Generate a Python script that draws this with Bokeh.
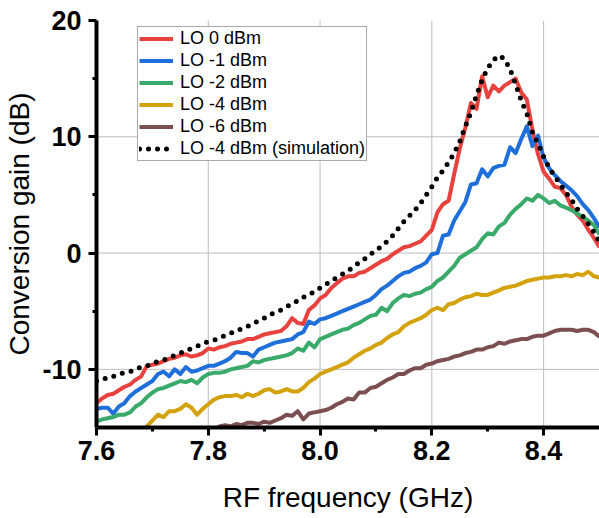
import numpy as np
from bokeh.plotting import figure
from bokeh.models import FixedTicker, Legend, LegendItem, Range1d, Span
from bokeh.embed import file_html
from bokeh.resources import INLINE

# RF frequency sweep (GHz), 10 MHz steps
freq = np.round(np.linspace(7.60, 8.50, 91), 2)

lo_0dBm = [-12.9, -12.5, -12.2, -12.1, -11.8, -11.5, -11.3, -10.9, -10.6, -9.7,
           -9.6, -9.5, -9.3, -9.1, -9.0, -8.8, -8.7, -8.9, -8.8, -8.6,
           -8.2, -8.3, -8.1, -8.0, -7.8, -7.7, -7.6, -7.4, -7.4, -7.2,
           -7.0, -6.9, -6.8, -6.7, -6.3, -5.6, -6.0, -6.1, -4.9, -4.5,
           -3.9, -3.6, -3.0, -2.6, -2.2, -2.0, -2.0, -1.7, -1.6, -1.3,
           -1.0, -0.7, -0.5, -0.1, 0.2, 0.5, 0.6, 0.8, 1.0, 1.5,
           2.0, 3.5, 4.2, 4.5, 6.8, 9.0, 10.8, 12.9, 12.4, 15.2,
           13.4, 14.4, 13.9, 14.4, 14.7, 15.0, 13.8, 13.2, 10.6, 8.5,
           7.0, 6.4, 5.7, 5.6, 5.0, 4.0, 3.3, 2.8, 2.0, 1.3,
           0.5]

lo_m1dBm = [-13.4, -13.3, -13.3, -13.8, -13.2, -12.9, -12.3, -11.9, -11.6, -11.3,
            -11.0, -10.4, -10.2, -10.6, -10.0, -10.4, -9.8, -10.2, -10.1, -9.9,
            -9.7, -9.7, -9.5, -9.3, -9.0, -8.5, -8.6, -8.6, -8.9, -8.3,
            -8.1, -7.9, -7.7, -7.6, -7.5, -7.4, -7.0, -6.8, -5.9, -6.1,
            -5.7, -5.6, -5.4, -5.2, -5.0, -4.8, -4.6, -4.4, -4.2, -4.0,
            -3.6, -3.1, -2.8, -2.4, -2.0, -1.7, -1.6, -1.3, -1.1, -0.8,
            -0.1, 0.0, 1.5, 1.6, 2.8, 3.6, 4.4, 5.9, 6.0, 7.2,
            6.6, 7.3, 7.5, 7.6, 9.1, 8.6, 9.8, 10.9, 9.2, 10.1,
            8.2, 7.3, 6.7, 6.2, 5.8, 5.4, 4.9, 4.2, 3.7, 3.0,
            2.2]

lo_m2dBm = [-14.5, -14.3, -14.2, -14.1, -13.9, -13.9, -13.7, -13.2, -12.9, -12.4,
            -12.0, -11.7, -11.6, -11.4, -11.2, -11.0, -11.1, -10.9, -11.2, -10.7,
            -10.4, -10.3, -10.3, -10.2, -10.0, -9.9, -9.8, -9.7, -9.3, -9.4,
            -9.2, -9.1, -9.0, -8.9, -8.8, -8.6, -8.2, -8.4, -7.7, -8.1,
            -7.4, -7.2, -7.0, -6.8, -6.6, -6.5, -6.2, -6.0, -5.7, -5.4,
            -5.3, -4.7, -5.0, -4.3, -3.9, -3.6, -3.7, -3.5, -3.4, -3.1,
            -2.9, -2.4, -2.1, -1.6, -1.1, -0.4, -0.1, 0.2, 0.5, 1.2,
            1.7, 1.6, 2.3, 2.6, 3.3, 3.8, 4.2, 4.7, 4.5, 5.0,
            4.7, 4.3, 4.5, 4.1, 3.9, 3.7, 3.4, 3.1, 2.8, 2.4,
            1.6]

# starts at 7.68 GHz (below the axis before that)
lo_m4dBm = [-15.4, -14.9, -14.4, -13.9, -14.1, -13.6, -13.6, -13.4, -13.0, -13.3,
            -13.9, -13.4, -13.0, -12.6, -12.4, -12.3, -12.3, -12.2, -12.4, -12.1,
            -12.3, -12.1, -11.8, -11.7, -12.0, -11.9, -11.7, -11.9, -11.9, -11.6,
            -11.1, -10.8, -10.4, -10.2, -10.0, -9.8, -9.6, -9.4, -9.0, -8.7,
            -8.4, -8.2, -7.9, -7.7, -7.3, -7.0, -6.8, -6.3, -6.0, -5.8,
            -5.6, -5.3, -4.9, -4.7, -4.9, -4.4, -4.3, -4.0, -3.8, -3.7,
            -3.5, -3.6, -3.6, -3.4, -3.2, -3.0, -2.9, -2.8, -2.6, -2.4,
            -2.3, -2.2, -2.1, -2.1, -2.0, -2.0, -1.9, -2.0, -1.8, -1.9,
            -1.6, -2.0, -2.1]

# starts at 7.81 GHz
lo_m6dBm = [-15.3, -14.9, -14.8, -14.9, -14.7, -14.8, -14.6, -14.6, -14.7, -14.5,
            -14.6, -14.4, -14.2, -13.9, -14.0, -13.6, -14.3, -13.8, -13.7, -13.6,
            -13.5, -13.3, -13.0, -12.8, -12.5, -12.6, -12.0, -12.0, -11.6, -11.5,
            -11.2, -10.9, -10.7, -10.4, -10.4, -10.1, -9.9, -9.9, -9.6, -9.5,
            -9.3, -9.2, -9.1, -8.9, -8.8, -8.6, -8.5, -8.3, -8.3, -8.1,
            -8.0, -7.7, -7.8, -7.6, -7.5, -7.4, -7.4, -7.2, -7.1, -7.1,
            -6.9, -6.7, -6.6, -6.6, -6.6, -6.7, -6.6, -6.6, -6.8, -7.2]

lo_m4dBm_sim = [-11.0, -10.9, -10.7, -10.6, -10.4, -10.3, -10.2, -10.0, -9.8, -9.7,
                -9.5, -9.3, -9.2, -9.0, -8.8, -8.6, -8.4, -8.2, -8.0, -7.8,
                -7.6, -7.5, -7.3, -7.1, -6.9, -6.7, -6.5, -6.3, -6.1, -5.8,
                -5.6, -5.3, -5.1, -4.9, -4.6, -4.4, -4.1, -3.8, -3.6, -3.3,
                -3.0, -2.7, -2.4, -2.1, -1.8, -1.5, -1.2, -0.8, -0.5, -0.1,
                0.2, 0.6, 1.0, 1.5, 2.1, 2.7, 3.2, 3.7, 4.3, 5.0,
                5.7, 6.5, 7.1, 7.8, 8.6, 9.6, 10.9, 12.1, 13.6, 14.9,
                15.9, 16.6, 17.0, 16.7, 15.8, 14.5, 13.1, 12.0, 10.4, 9.4,
                8.3, 7.3, 6.6, 5.9, 5.2, 4.6, 3.8, 3.2, 2.5, 1.8,
                1.0]

labels = ["LO 0 dBm", "LO -1 dBm", "LO -2 dBm", "LO -4 dBm", "LO -6 dBm",
          "LO -4 dBm (simulation)"]
colors = ["#e8423f", "#1f6fdb", "#3aaa6a", "#d3a20c", "#7b4e50", "#000000"]

x_ticks = [7.6, 7.8, 8.0, 8.2, 8.4]
x_minor = [7.7, 7.9, 8.1, 8.3]
y_ticks = [-10, 0, 10, 20]
y_minor = [-5, 5, 15]

FONT = "Liberation Sans"

p = figure(width=599, height=518, x_range=Range1d(7.6, 8.5), y_range=Range1d(-15, 20),
           output_backend="svg", toolbar_location=None,
           min_border_left=96, min_border_right=0, min_border_top=20,
           min_border_bottom=91)
p.outline_line_color = None
p.background_fill_color = "white"
p.xgrid.visible = False
p.ygrid.visible = False

# grid lines at the inner major ticks
for v in x_ticks[1:]:
    p.add_layout(Span(location=v, dimension="height", line_color="#bdbdbd",
                      line_width=1, level="underlay"))
for v in y_ticks[:-1]:
    p.add_layout(Span(location=v, dimension="width", line_color="#bdbdbd",
                      line_width=1, level="underlay"))

series = [lo_0dBm, lo_m1dBm, lo_m2dBm, lo_m4dBm, lo_m6dBm]
renderers = []
for vals, col in zip(series, colors[:5]):
    xs = freq[len(freq) - len(vals):]
    r = p.line(xs, vals, line_color=col, line_width=4, line_join="round")
    renderers.append(r)

r_sim = p.line(freq, lo_m4dBm_sim, line_color="black", line_width=5,
               line_dash="0 9", line_cap="round")
renderers.append(r_sim)

# axes
for ax in (p.xaxis[0], p.yaxis[0]):
    ax.axis_line_width = 4
    ax.axis_line_color = "black"
    ax.major_tick_line_width = 3
    ax.minor_tick_line_width = 3
    ax.major_tick_in = 0
    ax.major_tick_out = 8
    ax.minor_tick_in = 0
    ax.minor_tick_out = 4
    ax.major_label_text_font = FONT
    ax.major_label_text_font_style = "bold"
    ax.major_label_text_font_size = "27px"
    ax.major_label_text_color = "black"
    ax.axis_label_text_font = FONT
    ax.axis_label_text_font_style = "normal"
    ax.axis_label_text_font_size = "28px"
    ax.axis_label_text_color = "black"

p.xaxis.ticker = FixedTicker(ticks=x_ticks, minor_ticks=x_minor)
p.yaxis.ticker = FixedTicker(ticks=y_ticks, minor_ticks=y_minor)
p.xaxis.major_label_overrides = {v: f"{v:.1f}" for v in x_ticks}
p.yaxis.major_label_overrides = {v: str(v) for v in y_ticks}
p.xaxis.axis_label = "RF frequency (GHz)"
p.yaxis.axis_label = "Conversion gain (dB)"
p.xaxis.major_label_standoff = 5
p.yaxis.major_label_standoff = 7
p.xaxis.axis_label_standoff = 19
p.yaxis.axis_label_standoff = 4

legend = Legend(items=[LegendItem(label=l, renderers=[r]) for l, r in zip(labels, renderers)],
                location=(41, 266))
legend.label_text_font = FONT
legend.label_text_font_size = "18px"
legend.label_text_color = "black"
legend.glyph_width = 34
legend.glyph_height = 21
legend.label_height = 21
legend.label_standoff = 7
legend.spacing = 1
legend.padding = 1
legend.margin = 0
legend.border_line_color = "#555555"
legend.border_line_width = 1
legend.background_fill_alpha = 1
p.add_layout(legend)

open("out.html", "w").write(file_html(p, INLINE))
